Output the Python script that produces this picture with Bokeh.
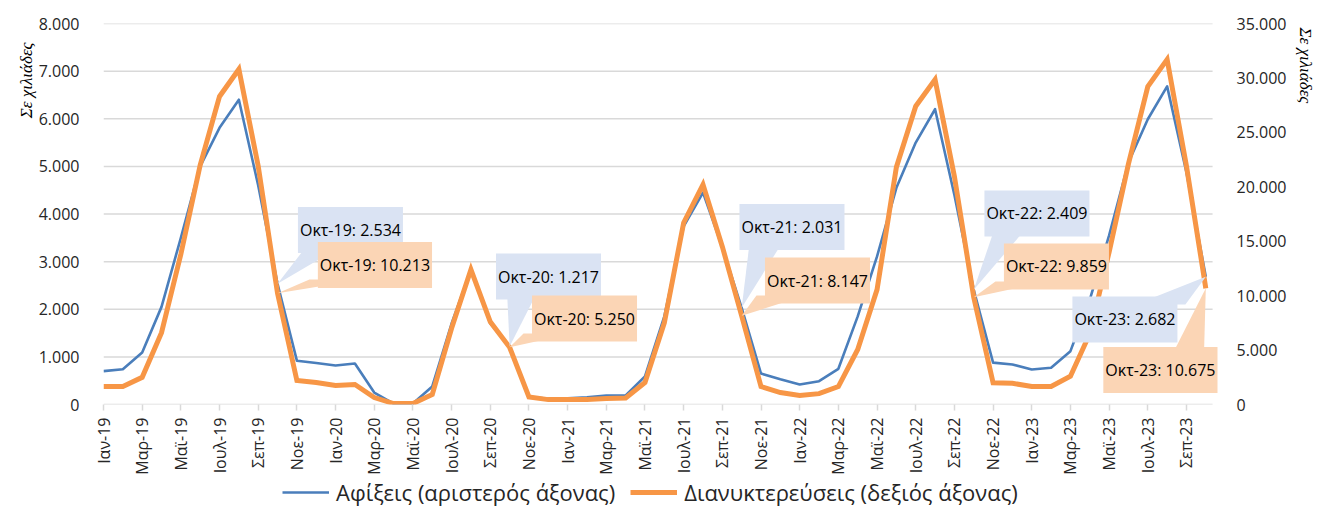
from bokeh.plotting import figure
from bokeh.layouts import column
from bokeh.models import (Range1d, LinearAxis, FixedTicker, Legend, LegendItem,
                          Title, ColumnDataSource, Label)
from bokeh.embed import file_html
from bokeh.resources import INLINE

# ---------------- data ----------------
MONTH_ABBR = ["Ιαν", "Φεβ", "Μαρ", "Απρ", "Μαϊ", "Ιουν",
              "Ιουλ", "Αυγ", "Σεπ", "Οκτ", "Νοε", "Δεκ"]
YEARS = ["19", "20", "21", "22", "23"]
N_MONTHS = 58  # Ιαν-19 ... Οκτ-23
months = [f"{MONTH_ABBR[i % 12]}-{YEARS[i // 12]}" for i in range(N_MONTHS)]

arrivals = [700, 740, 1090, 2050, 3500, 5000, 5810, 6400, 4600, 2534, 920, 870,
            820, 860, 250, 20, 20, 380, 1700, 2830, 1700, 1217, 160, 120,
            130, 150, 190, 190, 590, 1850, 3740, 4450, 3300, 2031, 650, 530,
            420, 490, 750, 1850, 3110, 4550, 5500, 6200, 4400, 2409, 880, 840,
            735, 770, 1120, 2200, 3550, 5080, 5990, 6680, 4870, 2682]

overnights = [1650, 1650, 2500, 6600, 13800, 22000, 28300, 30800, 21900, 10213, 2200, 2020,
              1750, 1840, 640, 90, 90, 920, 7000, 12400, 7600, 5250, 700, 450,
              450, 450, 550, 600, 2020, 7500, 16700, 20200, 14500, 8147, 1650, 1100,
              830, 1000, 1650, 5050, 10560, 21800, 27400, 29850, 20950, 9859, 2000, 1950,
              1650, 1650, 2600, 6500, 14000, 22100, 29200, 31700, 21900, 10675]

left_ticks = [0, 1000, 2000, 3000, 4000, 5000, 6000, 7000, 8000]
left_tick_labels = ["0", "1.000", "2.000", "3.000", "4.000", "5.000", "6.000", "7.000", "8.000"]
right_ticks = [0, 5000, 10000, 15000, 20000, 25000, 30000, 35000]
right_tick_labels = ["0", "5.000", "10.000", "15.000", "20.000", "25.000", "30.000", "35.000"]

series_names = ["Αφίξεις (αριστερός άξονας)", "Διανυκτερεύσεις (δεξιός άξονας)"]
axis_title = "Σε χιλιάδες"
callout_months = [9, 21, 33, 45, 57]  # Οκτώβριοι

# ---------------- style ----------------
BLUE = "#4A7EBB"
ORANGE = "#F79646"
BLUE_BOX = "#DAE3F3"
ORANGE_BOX = "#FBD5B5"
GRID = "#D9D9D9"
TXT = "#262626"
FONT = "Open Sans"

PX_PER_X = 19.34           # pixels per month
X_GRID_END = 57.35         # where gridlines stop
X_FRAME_END = 58.07        # frame extends a bit further so callouts are not cut
FRAME_W = round(PX_PER_X * X_FRAME_END)
FRAME_H = 381
Y_LEFT_MAX, Y_RIGHT_MAX = 8000, 35000
PX_PER_Y = FRAME_H / Y_LEFT_MAX
FULL_W = 1316
LEFT_B = 103

x = list(range(N_MONTHS))
src = ColumnDataSource(dict(x=x, arr=arrivals, ovn=overnights))

p = figure(frame_width=FRAME_W, frame_height=FRAME_H,
           x_range=Range1d(0, X_FRAME_END), y_range=Range1d(0, Y_LEFT_MAX),
           output_backend="svg", toolbar_location=None,
           min_border_left=LEFT_B, min_border_right=FULL_W - LEFT_B - FRAME_W,
           min_border_top=23, min_border_bottom=71, outline_line_color=None,
           background_fill_color="white", border_fill_color="white")
p.extra_y_ranges = {"right": Range1d(0, Y_RIGHT_MAX)}

# grid (drawn as segments so it stops at the last category)
p.xgrid.grid_line_color = None
p.ygrid.grid_line_color = None
p.segment(x0=[0] * len(left_ticks), x1=[X_GRID_END] * len(left_ticks),
          y0=left_ticks, y1=left_ticks, line_color=GRID, line_width=1.5)

# x axis
xa = p.xaxis[0]
xa.ticker = FixedTicker(ticks=list(range(0, N_MONTHS, 2)))
xa.major_label_overrides = {i: months[i] for i in range(0, N_MONTHS, 2)}
xa.major_label_orientation = 3.14159265 / 2
xa.axis_line_color = None
xa.major_tick_line_color = GRID
xa.major_tick_line_width = 1.5
xa.major_tick_in = 0
xa.major_tick_out = 6
xa.minor_tick_line_color = None
xa.major_label_text_font = FONT
xa.major_label_text_font_size = "16px"
xa.major_label_text_color = TXT
xa.major_label_standoff = 7

# left axis
ya = p.yaxis[0]
ya.ticker = FixedTicker(ticks=left_ticks)
ya.major_label_overrides = {t: l for t, l in zip(left_ticks, left_tick_labels)}
ya.axis_line_color = None
ya.major_tick_line_color = None
ya.minor_tick_line_color = None
ya.major_label_text_font = FONT
ya.major_label_text_font_size = "16px"
ya.major_label_text_color = TXT
ya.major_label_standoff = 18

# right axis
ra = LinearAxis(y_range_name="right", ticker=FixedTicker(ticks=right_ticks))
ra.major_label_overrides = {t: l for t, l in zip(right_ticks, right_tick_labels)}
ra.axis_line_color = None
ra.major_tick_line_color = None
ra.minor_tick_line_color = None
ra.major_label_text_font = FONT
ra.major_label_text_font_size = "16px"
ra.major_label_text_color = TXT
ra.major_label_standoff = 4
p.add_layout(ra, "right")

# axis titles
lt = Title(text=axis_title, align="right", text_font="Liberation Serif",
           text_font_style="italic", text_font_size="17px", text_color="black",
           standoff=0, offset=19)
p.add_layout(lt, "left")
rt = Title(text=axis_title, align="left", text_font="Liberation Serif",
           text_font_style="italic", text_font_size="17px", text_color="black",
           standoff=12, offset=4)
p.add_layout(rt, "right")

# lines
r_blue = p.line("x", "arr", source=src, line_color=BLUE, line_width=2.6,
                line_join="round")
r_orange = p.line("x", "ovn", source=src, y_range_name="right",
                  line_color=ORANGE, line_width=5, line_join="miter")

# ---------------- callouts ----------------
# (series, callout index, box dx px, box dy px (down +), box w px, box h px, edge, f0, f1)
callout_style = [
    ("a", 0, 72.9, -53.8, 122, 29, "bottom", 0.15, 0.45),
    ("o", 0, 97.4, -28.3, 131, 29, "bottom", 0.0, 0.40),
    ("a", 1, 38.9, -70.0, 122, 30, "bottom", 0.16, 0.41),
    ("o", 1, 74.9, -28.8, 122, 30, "bottom", 0.0, 0.40),
    ("a", 2, 50.3, -80.8, 121, 31, "bottom", 0.15, 0.42),
    ("o", 2, 75.8, -35.3, 122, 30, "bottom", 0.0, 0.40),
    ("a", 3, 63.2, -76.3, 121, 30, "bottom", 0.15, 0.41),
    ("o", 3, 82.7, -30.7, 122, 30, "bottom", 0.0, 0.42),
    ("a", 4, -80.9, 42.7, 121, 30, "top", 0.59, 1.0),
    ("o", 4, -45.4, 81.7, 132, 31, "top", 0.59, 0.83),
]

def fmt(v):
    return f"{v:,}".replace(",", ".")

wedges = {"a": dict(xs=[], ys=[]), "o": dict(xs=[], ys=[])}
labels = []

for ser, k, dx, dy, w, h, edge, f0, f1 in callout_style:
    m = callout_months[k]
    if ser == "a":
        v = arrivals[m]
        ay = v
    else:
        v = overnights[m]
        ay = v * Y_LEFT_MAX / Y_RIGHT_MAX
    ax = m
    cx = ax + dx / PX_PER_X
    cy = ay - dy / PX_PER_Y
    hw = w / 2 / PX_PER_X
    hh = h / 2 / PX_PER_Y
    L, R, T, B = cx - hw, cx + hw, cy + hh, cy - hh
    ey = B if edge == "bottom" else T
    wedges[ser]["xs"].append([ax, L + f0 * (R - L), L + f1 * (R - L)])
    wedges[ser]["ys"].append([ay, ey, ey])
    labels.append((ser, cx, cy, f"{months[m]}: {fmt(v)}"))

for ser, col in (("a", BLUE_BOX), ("o", ORANGE_BOX)):
    p.patches(xs=wedges[ser]["xs"], ys=wedges[ser]["ys"], fill_color=col,
              line_color=None)

for ser, cx, cy, t in labels:
    col = BLUE_BOX if ser == "a" else ORANGE_BOX
    p.add_layout(Label(x=cx, y=cy, text=t, text_align="center",
                       text_baseline="middle", text_font=FONT,
                       text_font_size="16px", text_color="black",
                       background_fill_color=col, border_line_color=None,
                       padding=(2, 12)))

# ---------------- legend (own strip below the chart) ----------------
lf = figure(width=FULL_W, height=30, x_range=Range1d(0, 1), y_range=Range1d(0, 1),
            output_backend="svg", toolbar_location=None, min_border=0,
            x_axis_location=None, y_axis_location=None,
            outline_line_color=None, border_fill_color="white")
lf.grid.grid_line_color = None
lb = lf.line([-10, -9], [-10, -9], line_color=BLUE, line_width=2.6)
lo = lf.line([-10, -9], [-10, -9], line_color=ORANGE, line_width=5)
legend = Legend(items=[LegendItem(label=series_names[0], renderers=[lb]),
                       LegendItem(label=series_names[1], renderers=[lo])],
                orientation="horizontal", location=(179, 0),
                label_text_font=FONT, label_text_font_size="22px",
                label_text_color=TXT, glyph_width=47, glyph_height=20,
                spacing=15, padding=0, margin=0, label_standoff=7,
                label_height=20, border_line_color=None, background_fill_alpha=0)
lf.add_layout(legend, "center")

open("out.html", "w").write(file_html(column(p, lf, spacing=0), INLINE))
